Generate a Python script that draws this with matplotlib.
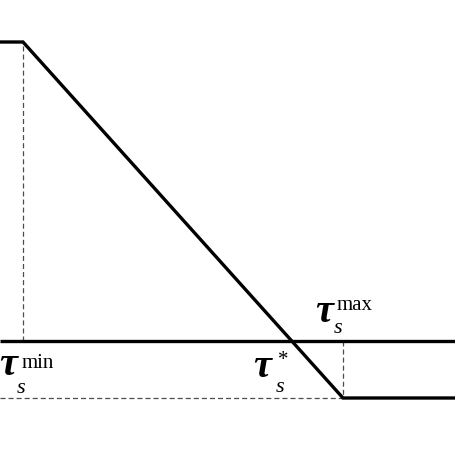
import numpy as np
import matplotlib
matplotlib.use('Agg')
import matplotlib.pyplot as plt

plt.rcParams['font.family'] = ['Liberation Serif', 'DejaVu Serif']
plt.rcParams['lines.scale_dashes'] = False

# piecewise curve (x in pixels-like units, y relative to the axis line)
curve_x = [0, 23, 343, 455]
curve_y = [299, 299, -57, -57]
tau_min = 23
tau_star = 292
tau_max = 343
y_high = 299
y_low = -57

fig = plt.figure(figsize=(4.55, 4.55), dpi=100)
ax = fig.add_axes([0, 0, 1, 1])
ax.set_xlim(0, 455)
ax.set_ylim(-114, 341)
ax.axis('off')

dash = (0, (3.6, 2.2))
grey = '#4d4d4d'

# axis line
ax.plot([0, 455], [0, 0], color='black', lw=2.4, solid_capstyle='butt', zorder=3)
# main curve
ax.plot(curve_x, curve_y, color='black', lw=2.4, solid_joinstyle='miter', zorder=4)
# guides
ax.plot([tau_min, tau_min], [0, y_high], color=grey, lw=0.9, ls=dash)
ax.plot([tau_max, tau_max], [0, y_low], color=grey, lw=0.9, ls=dash)
ax.plot([0, tau_max], [y_low, y_low], color=grey, lw=0.9, ls=dash)

tau_kw = dict(fontsize=29, fontweight='bold', fontstyle='italic', va='baseline', ha='left')
sub_kw = dict(fontsize=16, fontstyle='italic', va='baseline', ha='left')
sup_kw = dict(fontsize=15, va='baseline', ha='left')

# tau_s^min
ax.text(-1, -34, '\u03c4', **tau_kw)
ax.text(17, -52, 's', **sub_kw)
ax.text(22, -27, 'min', **sup_kw)
# tau_s^*
ax.text(253, -36, '\u03c4', **tau_kw)
ax.text(276, -51, 's', **sub_kw)
ax.text(278, -24, '*', **sup_kw)
# tau_s^max
ax.text(315, 19, '\u03c4', **tau_kw)
ax.text(334, 8, 's', **sub_kw)
ax.text(337, 31, 'max', **sup_kw)

fig.savefig('out.png', dpi=100)
